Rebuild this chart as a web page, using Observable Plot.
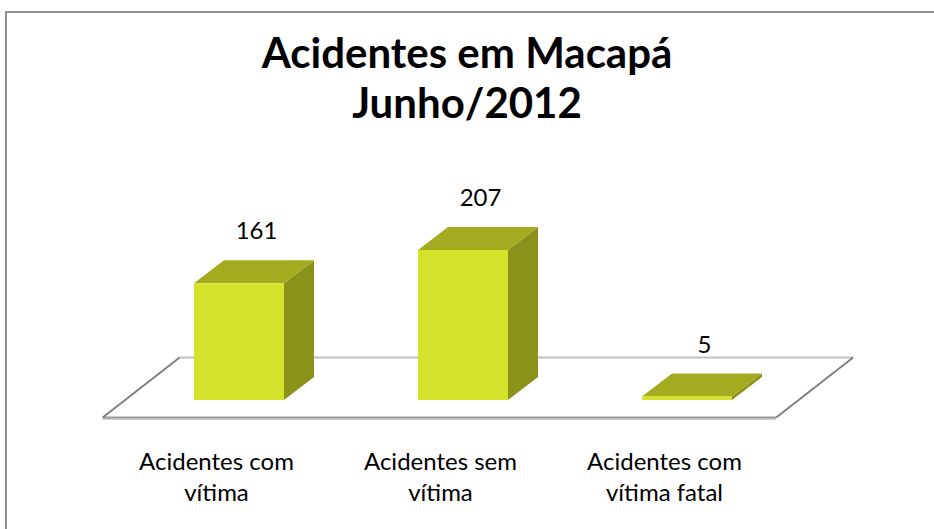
<!DOCTYPE html>
<html>
<head>
<meta charset="utf-8">
<script src="https://cdn.jsdelivr.net/npm/d3@7"></script>
<script src="https://cdn.jsdelivr.net/npm/@observablehq/plot@0.6"></script>
<style>
  html, body { margin: 0; padding: 0; background: #fff; }
  #wrap { position: relative; width: 934px; height: 529px; overflow: hidden; font-family: Lato, "Open Sans", sans-serif; }
  #frame { position: absolute; left: 5px; top: 11px; width: 1000px; height: 700px;
           border-left: 2px solid #8e8e8e; border-top: 2px solid #8e8e8e; box-sizing: border-box; }
  #title { position: absolute; left: 0; top: 27px; width: 934px; text-align: center;
           font-weight: bold; font-size: 42px; line-height: 50px; color: #000; }
  #chart { position: absolute; left: 0; top: 0; }
</style>
</head>
<body>
<div id="wrap">
  <div id="frame"></div>
  <div id="chart"></div>
  <div id="title">Acidentes em Macapá<br>Junho/2012</div>
</div>
<script>
// ---- data ----
const categories = ["Acidentes com\nvítima", "Acidentes sem\nvítima", "Acidentes com\nvítima fatal"];
const values = [161, 207, 5];
const data = categories.map((c, i) => ({category: c, value: values[i]}));

// ---- 3D look ----
const DX = 30, DY = -23;              // bar depth
const F0 = [-23, 17.5], F1 = [54, -42.5]; // floor front / back offsets from bar plane
const FRONT = "#d3e22a", TOP = "#a3ac1e", SIDE = "#8a9219";

const floorMark = (index, scales) => {
  const x = scales.x, y = scales.y;
  const [r0, r1] = x.range();
  const y0 = y(0);
  const g = d3.create("svg:g");
  const fl = [r0 + F0[0], y0 + F0[1]], fr = [r1 + F0[0], y0 + F0[1]];
  const bl = [r0 + F1[0], y0 + F1[1]], br = [r1 + F1[0], y0 + F1[1]];
  g.append("polygon").attr("points", [fl, bl, br, fr].map(p => p.join(",")).join(" ")).attr("fill", "#fff");
  g.append("line").attr("x1", bl[0]).attr("y1", bl[1]).attr("x2", br[0]).attr("y2", br[1])
    .attr("stroke", "#bfbfbf").attr("stroke-width", 2);
  g.append("line").attr("x1", fl[0]).attr("y1", fl[1] + 1.5).attr("x2", fr[0]).attr("y2", fr[1] + 1.5)
    .attr("stroke", "#d0d0d0").attr("stroke-width", 2);
  g.append("line").attr("x1", fl[0]).attr("y1", fl[1]).attr("x2", fr[0]).attr("y2", fr[1])
    .attr("stroke", "#9a9a9a").attr("stroke-width", 2);
  for (const [a, b] of [[fl, bl], [fr, br]]) {
    g.append("line").attr("x1", a[0]).attr("y1", a[1]).attr("x2", b[0]).attr("y2", b[1])
      .attr("stroke", "#808080").attr("stroke-width", 2);
  }
  return g.node();
};

const depthMark = (index, scales) => {
  const x = scales.x, y = scales.y;
  const bw = x.bandwidth();
  const g = d3.create("svg:g");
  for (const d of data) {
    const xl = x(d.category), xr = xl + bw;
    const yt = y(d.value), yb = y(0);
    g.append("polygon")
      .attr("points", [[xr, yt], [xr + DX, yt + DY], [xr + DX, yb + DY], [xr, yb]].map(p => p.join(",")).join(" "))
      .attr("fill", SIDE);
    g.append("polygon")
      .attr("points", [[xl, yt], [xl + DX, yt + DY], [xr + DX, yt + DY], [xr, yt]].map(p => p.join(",")).join(" "))
      .attr("fill", TOP);
  }
  return g.node();
};

const plot = Plot.plot({
  width: 934,
  height: 529,
  margin: 0,
  style: {background: "transparent", fontFamily: "Lato, 'Open Sans', sans-serif", color: "#000"},
  x: {type: "band", domain: categories, range: [125.65, 799.15], paddingInner: 0.6, paddingOuter: 0.3, axis: null},
  y: {domain: [0, 250], range: [400, 218.75], axis: null},
  marks: [
    floorMark,
    depthMark,
    Plot.barY(data, {x: "category", y: "value", fill: FRONT}),
    Plot.ruleY([0], {x1: d => categories[0], stroke: "none"}),
    Plot.text(data, {x: "category", y: "value", text: d => String(d.value), dx: 17, dy: -52,
                     lineAnchor: "middle", fontSize: 24, fill: "#000"}),
    Plot.text(data, {x: "category", y: () => 0, text: "category", dx: -23, dy: 48,
                     lineAnchor: "top", lineHeight: 1.27, fontSize: 24, fill: "#000"})
  ]
});
document.getElementById("chart").appendChild(plot);
</script>
</body>
</html>
